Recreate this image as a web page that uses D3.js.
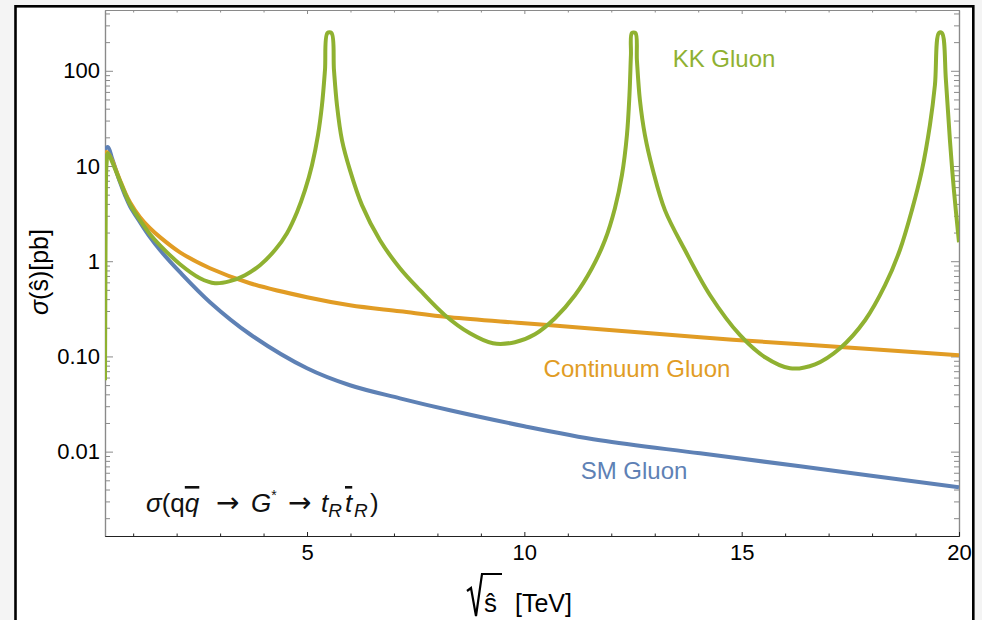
<!DOCTYPE html>
<html>
<head>
<meta charset="utf-8">
<script src="https://cdn.jsdelivr.net/npm/d3@7"></script>
<style>
  html, body { margin: 0; padding: 0; background: #f4f4f4; }
  svg { display: block; font-family: "Liberation Sans", Arial, sans-serif; }
</style>
</head>
<body>
<svg id="chart" width="982" height="620"></svg>
<script>
// sqrt(s-hat) in TeV, cross-section in pb
const smS = [0.352, 0.421, 0.513, 0.605, 0.697, 0.812, 0.927, 1.157, 1.387, 1.617, 2.077, 2.767, 3.688, 5.0, 5.988, 7.138, 8.288, 10, 11.739, 14.043, 16.344, 20];
const smV = [15.0, 15.8, 12.1, 9.04, 6.76, 4.94, 3.78, 2.57, 1.79, 1.31, 0.766, 0.371, 0.171, 0.0751, 0.0498, 0.0363, 0.0272, 0.0185, 0.01316, 0.0096, 0.00701, 0.00422];

const contS = [0.352, 0.398, 0.513, 0.605, 0.697, 0.812, 0.927, 1.157, 1.387, 1.617, 2.077, 2.767, 3.688, 5.0, 5.988, 7.138, 8.288, 10, 11.739, 14.043, 16.344, 20];
const contV = [13.6, 14.0, 11.5, 9.04, 7.10, 5.31, 4.17, 2.90, 2.22, 1.79, 1.24, 0.844, 0.587, 0.418, 0.345, 0.298, 0.258, 0.223, 0.193, 0.159, 0.134, 0.103];

const kkS = [0.352, 0.361, 0.370, 0.386, 0.421, 0.513, 0.605, 0.697, 0.812, 0.927, 1.157, 1.387, 1.617, 2.077, 2.537, 2.882, 3.227, 3.573, 3.918, 4.263, 4.539, 4.769, 4.953, 5.114, 5.252, 5.344, 5.413, 5.470,
  5.563, 5.620, 5.689, 5.804, 5.988, 6.264, 6.678, 7.138, 7.598, 8.173, 8.748, 9.277, 9.783, 10.244, 10.704, 11.164, 11.555, 11.854, 12.084, 12.245, 12.360, 12.418, 12.452, 12.475,
  12.556, 12.590, 12.659, 12.774, 12.958, 13.234, 13.694, 14.273, 14.963, 15.538, 16.113, 16.689, 17.264, 17.839, 18.299, 18.640, 18.917, 19.147, 19.331, 19.446, 19.538,
  19.607, 19.699, 19.791, 19.883, 20];
const kkV = [0.0562, 0.632, 4.37, 10.2, 13.6, 11.2, 8.83, 6.93, 5.18, 3.97, 2.70, 1.92, 1.47, 0.930, 0.663, 0.587, 0.617, 0.713, 0.908, 1.31, 1.97, 3.27, 5.57, 10.2, 21.1, 43.6, 101.6, 249,
  249, 101.6, 43.6, 18.7, 9.04, 3.88, 1.66, 0.844, 0.496, 0.271, 0.175, 0.1375, 0.141, 0.171, 0.252, 0.439, 0.844, 1.66, 3.61, 8.01, 21.1, 55.5, 146, 249,
  249, 129, 49.2, 21.1, 9.04, 3.44, 1.31, 0.439, 0.167, 0.098, 0.0751, 0.0827, 0.122, 0.240, 0.560, 1.31, 3.44, 9.04, 26.9, 70.7, 249,
  249, 79.8, 18.7, 5.57, 1.58];

const xTicks = [5, 10, 15, 20];
const yTicks = [0.01, 0.1, 1, 10, 100];
const yTickLabels = ["0.01", "0.10", "1", "10", "100"];

const colors = { sm: "#5e81b5", cont: "#e19c24", kk: "#8fb131" };

const svg = d3.select("#chart");
const plotL = 105, plotR = 959, plotT = 10, plotB = 536;

// outer slide frame
svg.append("rect")
  .attr("x", 15.5).attr("y", 6.3)
  .attr("width", 957.8).attr("height", 700)
  .attr("fill", "#fff").attr("stroke", "#000").attr("stroke-width", 2.6);

const x = d3.scaleLinear().domain([0.352, 20]).range([plotL, plotR]);
const y = d3.scaleLog().domain([0.0013, 435]).range([plotB, plotT]);

const xMinor = d3.range(1, 20).filter(d => d % 5 !== 0);
const yMinor = [];
for (let e = -3; e <= 2; e++) {
  for (let m = 2; m <= 9; m++) {
    const v = m * Math.pow(10, e);
    if (v > 0.0013 && v < 435) yMinor.push(v);
  }
}

function styleAxis(g, color) {
  g.select(".domain").attr("stroke", color).attr("stroke-width", 1.2);
  g.selectAll(".tick line").attr("stroke", color).attr("stroke-width", 1);
  g.selectAll(".tick text").attr("fill", "#000");
}

// left
svg.append("g").attr("transform", `translate(${plotL},0)`)
  .call(d3.axisLeft(y).tickValues(yMinor).tickSizeInner(-5).tickSizeOuter(0).tickFormat(""))
  .call(g => styleAxis(g, "#8a8a8a"));
svg.append("g").attr("transform", `translate(${plotL},0)`)
  .call(d3.axisLeft(y).tickValues(yTicks).tickSizeInner(-8).tickSizeOuter(0).tickPadding(5)
    .tickFormat((d, i) => yTickLabels[i]))
  .call(g => styleAxis(g, "#8a8a8a"))
  .call(g => g.selectAll(".tick text").attr("font-size", 22).attr("font-family", "Liberation Sans, Arial, sans-serif"));

// right
svg.append("g").attr("transform", `translate(${plotR},0)`)
  .call(d3.axisRight(y).tickValues(yMinor).tickSizeInner(-5).tickSizeOuter(0).tickFormat(""))
  .call(g => styleAxis(g, "#8a8a8a"));
svg.append("g").attr("transform", `translate(${plotR},0)`)
  .call(d3.axisRight(y).tickValues(yTicks).tickSizeInner(-8).tickSizeOuter(0).tickFormat(""))
  .call(g => styleAxis(g, "#8a8a8a"));

// top
svg.append("g").attr("transform", `translate(0,${plotT})`)
  .call(d3.axisTop(x).tickValues(xMinor).tickSizeInner(-2.5).tickSizeOuter(0).tickFormat(""))
  .call(g => styleAxis(g, "#8a8a8a"));
svg.append("g").attr("transform", `translate(0,${plotT})`)
  .call(d3.axisTop(x).tickValues(xTicks).tickSizeInner(-4).tickSizeOuter(0).tickFormat(""))
  .call(g => styleAxis(g, "#8a8a8a"));

// bottom
svg.append("g").attr("transform", `translate(0,${plotB})`)
  .call(d3.axisBottom(x).tickValues(xMinor).tickSizeInner(-2.5).tickSizeOuter(0).tickFormat(""))
  .call(g => styleAxis(g, "#222"));
svg.append("g").attr("transform", `translate(0,${plotB})`)
  .call(d3.axisBottom(x).tickValues(xTicks).tickSizeInner(-4).tickSizeOuter(0).tickPadding(8)
    .tickFormat(d3.format("d")))
  .call(g => styleAxis(g, "#222"))
  .call(g => g.selectAll(".tick text").attr("font-size", 22).attr("font-family", "Liberation Sans, Arial, sans-serif"));

// curves
svg.append("clipPath").attr("id", "plotclip")
  .append("rect").attr("x", plotL).attr("y", plotT).attr("width", plotR - plotL).attr("height", plotB - plotT);

const line = d3.line()
  .x(d => x(d[0]))
  .y(d => y(d[1]))
  .curve(d3.curveCatmullRom.alpha(0.5));

const series = [
  { key: "sm", pts: d3.zip(smS, smV) },
  { key: "cont", pts: d3.zip(contS, contV) },
  { key: "kk", pts: d3.zip(kkS, kkV) }
];

svg.append("g").attr("clip-path", "url(#plotclip)")
  .selectAll("path")
  .data(series)
  .join("path")
  .attr("d", d => line(d.pts))
  .attr("fill", "none")
  .attr("stroke", d => colors[d.key])
  .attr("stroke-width", 4)
  .attr("stroke-linejoin", "round");

// curve labels
const labels = [
  { text: "KK Gluon", cx: 724, by: 67, key: "kk" },
  { text: "Continuum Gluon", cx: 637, by: 377, key: "cont" },
  { text: "SM Gluon", cx: 634, by: 479, key: "sm" }
];
svg.selectAll("text.lbl")
  .data(labels)
  .join("text")
  .attr("class", "lbl")
  .attr("x", d => d.cx).attr("y", d => d.by)
  .attr("text-anchor", "middle")
  .attr("font-size", 24)
  .attr("fill", d => colors[d.key])
  .text(d => d.text);

// process annotation, laid out piece by piece like the typeset original
const arrowFont = "DejaVu Sans, sans-serif";
const proc = svg.append("text").attr("y", 512).attr("font-size", 26).attr("fill", "#111");
proc.append("tspan").attr("x", 146).attr("font-style", "italic").text("σ");
proc.append("tspan").text("(q");
proc.append("tspan").attr("font-style", "italic").attr("text-decoration", "overline").text("q");
proc.append("tspan").attr("x", 216).attr("font-family", arrowFont).attr("font-size", 28).text("→");
proc.append("tspan").attr("x", 251).attr("font-style", "italic").text("G");
proc.append("tspan").attr("font-size", 14).attr("dy", -12).text("*");
proc.append("tspan").attr("x", 288).attr("dy", 12).attr("font-family", arrowFont).attr("font-size", 28).text("→");
proc.append("tspan").attr("x", 321).attr("font-style", "italic").text("t");
proc.append("tspan").attr("font-style", "italic").attr("font-size", 19).attr("dy", 5).text("R");
proc.append("tspan").attr("x", 345).attr("font-style", "italic").attr("dy", -5).attr("text-decoration", "overline").text("t");
proc.append("tspan").attr("x", 354).attr("font-style", "italic").attr("font-size", 19).attr("dy", 5).text("R");
proc.append("tspan").attr("x", 370).attr("dy", -5).text(")");

// y axis title
const yt = svg.append("text")
  .attr("transform", "translate(48,272) rotate(-90)")
  .attr("text-anchor", "middle")
  .attr("font-size", 25);
yt.append("tspan").attr("font-style", "italic").text("σ");
yt.append("tspan").text("(ŝ)[pb]");

// x axis title: radical over s-hat
const sh = svg.append("text").attr("x", 484).attr("y", 612).attr("font-size", 26).text("ŝ");
svg.append("text").attr("x", 515).attr("y", 612).attr("font-size", 25).text("[TeV]");
const bb = sh.node().getBBox();
const rTop = 574;
svg.append("path")
  .attr("d", `M${bb.x - 17},${591} L${bb.x - 13},${588} L${bb.x - 8},${616} L${bb.x - 2},${rTop} L${bb.x + bb.width + 5},${rTop}`)
  .attr("fill", "none").attr("stroke", "#000").attr("stroke-width", 2.2).attr("stroke-linejoin", "miter");
</script>
</body>
</html>
